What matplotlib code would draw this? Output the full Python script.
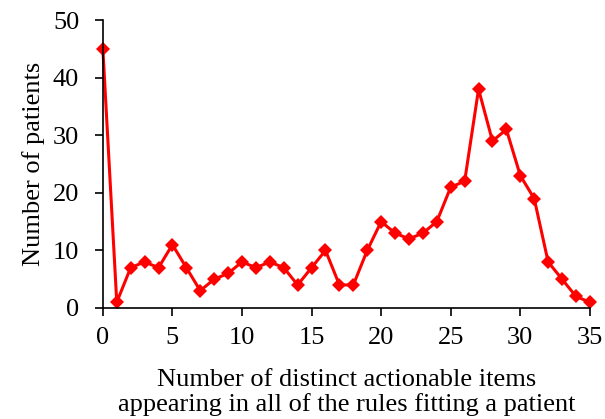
import matplotlib
matplotlib.use("Agg")
import matplotlib.pyplot as plt

plt.rcParams["font.family"] = ["Liberation Serif", "DejaVu Serif"]

# number of distinct actionable items -> number of patients
items = list(range(36))
patients = [45, 1, 7, 8, 7, 11, 7, 3, 5, 6,
            8, 7, 8, 7, 4, 7, 10, 4, 4, 10,
            15, 13, 12, 13, 15, 21, 22, 38, 29, 31,
            23, 19, 8, 5, 2, 1]
xticks = list(range(0, 36, 5))
yticks = list(range(0, 51, 10))

fig = plt.figure(figsize=(6.05, 4.19), dpi=100)
ax = fig.add_axes([0.170, 0.265, 0.805, 0.687])

ax.plot(items, patients, color="#ff0000", linewidth=2.2,
        marker="D", markersize=7, markeredgewidth=0, clip_on=False)

ax.set_xlim(0, 35)
ax.set_ylim(0, 50)
ax.set_xticks(xticks)
ax.set_yticks(yticks)
for s in ("top", "right"):
    ax.spines[s].set_visible(False)
for s in ("left", "bottom"):
    ax.spines[s].set_linewidth(1.2)
ax.tick_params(direction="out", length=6, width=1.2, labelsize=19)
ax.tick_params(axis="x", pad=8)
ax.tick_params(axis="y", pad=11)

ax.set_xlabel("Number of distinct actionable items\nappearing in all of the rules fitting a patient",
              fontsize=19, linespacing=1.12, labelpad=14)
ax.set_ylabel("Number of patients", fontsize=19, labelpad=6)

fig.savefig("out.png", dpi=100)
